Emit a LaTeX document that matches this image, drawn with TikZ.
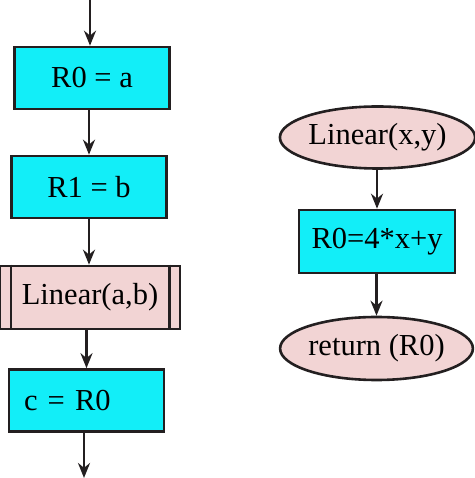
\documentclass[tikz,border=0pt]{standalone}
\usepackage{fontspec}
\setmainfont{Liberation Serif}
\usetikzlibrary{arrows.meta,shapes.geometric}
\definecolor{boxcyan}{RGB}{18,238,248}
\definecolor{callpink}{RGB}{242,212,212}
\definecolor{inkline}{RGB}{35,31,32}

\begin{document}
\begin{tikzpicture}[x=1pt,y=1pt,
  font=\fontsize{30.5}{36}\selectfont,
  conn/.style={draw=inkline,line width=2.8pt,-{Stealth[length=15pt,width=12pt]}},
  bar/.style={draw=inkline,line width=2.4pt},
  stepbox/.style={rectangle,draw=inkline,fill=boxcyan,line width=2.6pt,
    minimum width=155pt,minimum height=62pt,inner sep=0pt},
  callbox/.style={rectangle,draw=inkline,fill=callpink,line width=2.6pt,
    minimum width=180pt,minimum height=63pt,inner sep=0pt},
  termnode/.style={ellipse,draw=inkline,fill=callpink,line width=2.6pt,
    minimum width=188pt,minimum height=62pt,inner sep=0pt}]
\useasboundingbox (0,0) rectangle (474,478);
\coordinate (in) at (90,478);
\coordinate (out) at (84,0);
\node[stepbox] (v0) at (92,400) {R0 = a};
\node[stepbox] (v1) at (89,291) {R1 = b};
\node[callbox] (v2) at (90,180.5) {Linear(a,b)};
\node[stepbox,text width=125pt,align=left] (v3) at (86.5,77.5) {c = R0};
\node[termnode] (v4) at (377.5,340.5) {Linear(x,y)};
\node[stepbox,minimum width=156pt,minimum height=63pt] (v5) at (377,236.5) {R0=4*x+y};
\node[termnode,minimum width=187pt,minimum height=63pt] (v6) at (376.5,129.5) {return (R0)};
% side bars of the call box
\draw [bar] (v2.north west) ++(12,0) -- ++(0,-63);
\draw [bar] (v2.north east) ++(-12,0) -- ++(0,-63);
\draw [conn] (in) -- (in |- v0.north);
\draw [conn] (v1.north |- v0.south) -- (v1.north);
\draw [conn] (v1.south) -- (v1.south |- v2.north);
\draw [conn] (v3.north |- v2.south) -- (v3.north);
\draw [conn] (v3.south -| out) -- (out);
\draw [conn] (v4.south -| v5.north) -- (v5.north);
\draw [conn] (v6.north |- v5.south) -- (v6.north);
\end{tikzpicture}
\end{document}
